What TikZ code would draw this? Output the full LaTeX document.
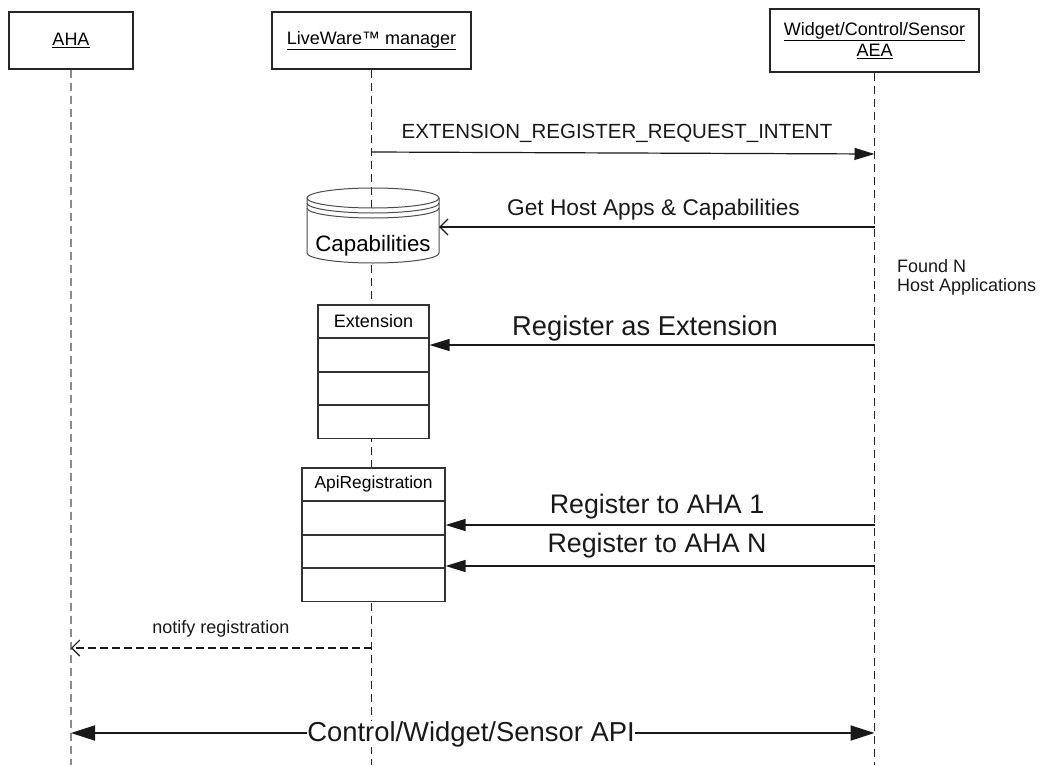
\documentclass[tikz,border=0pt]{standalone}
\usepackage{fontspec}
\setmainfont{Liberation Sans}
\usetikzlibrary{arrows.meta}
\begin{document}
\begin{tikzpicture}[x=1pt,y=-1pt,
  hdr/.style={draw=black!85, line width=1.2pt, fill=white, inner sep=0pt, align=center, font=\fontsize{18}{22}\selectfont},
  cell/.style={draw=black!80, line width=1.1pt, fill=white, inner sep=0pt, font=\fontsize{18}{22}\selectfont},
  life/.style={dash pattern=on 8pt off 5pt, line width=1.2pt, draw=black!85},
  lifeg/.style={dash pattern=on 8pt off 5pt, line width=1.1pt, draw=black!45},
  msg/.style={line width=1.2pt, draw=black!90, -{Triangle[length=20pt,width=12pt]}},
  reply/.style={line width=1.1pt, draw=black!90, -{Straight Barb[length=8pt,width=16pt]}},
  big/.style={line width=2pt, draw=black!90, {Triangle[length=24pt,width=15pt]}-{Triangle[length=24pt,width=15pt]}},
  lbl/.style={inner sep=0pt, anchor=base, text=black!90},
  cyl/.style={draw=black!70, line width=1pt}
]
\useasboundingbox (0,0) rectangle (1043,765);

% header boxes
\node[hdr, minimum width=124pt, minimum height=57pt] (aha) at (71,40.5) {\underline{AHA}};
\node[hdr, minimum width=199pt, minimum height=57pt] (lw) at (371.5,40.5) {\underline{LiveWare™ manager}};
\node[hdr, minimum width=209pt, minimum height=63pt] (aea) at (874.5,40.5) {\underline{Widget/Control/Sensor}\\[-1pt]\underline{AEA}};

% lifeline ends
\coordinate (ahaEnd) at (aha.south |- 0,765);
\coordinate (lwEnd) at (lw.south |- 0,765);
\coordinate (aeaEnd) at (aea.south |- 0,765);

\draw[lifeg] (aha.south) -- (ahaEnd);
\draw[life] (lw.south) -- (lwEnd);
\draw[life] (aea.south) -- (aeaEnd);

% capabilities cylinder
\node[inner sep=0pt, minimum width=132pt, minimum height=75pt] (cap) at (373,225.5) {};
\fill[white] (307,198) -- (307,253) arc[start angle=180,end angle=0,x radius=66,y radius=10] -- (439,198) arc[start angle=0,end angle=180,x radius=66,y radius=10] -- cycle;
\draw[cyl] (373,198) ellipse [x radius=66, y radius=10];
\draw[cyl] (307,203) arc[start angle=180,end angle=0,x radius=66,y radius=10];
\draw[cyl] (307,208) arc[start angle=180,end angle=0,x radius=66,y radius=10];
\draw[cyl] (307,198) -- (307,253) arc[start angle=180,end angle=0,x radius=66,y radius=10] -- (439,198);
\node[inner sep=0pt, anchor=base, font=\fontsize{22.3}{26}\selectfont] (captxt) at (373,251) {Capabilities};

% Extension class box
\node[cell, minimum width=111pt, minimum height=32.5pt] (ext) at (373.5,321.25) {Extension};
\node[cell, minimum width=111pt, minimum height=32.5pt, anchor=north] (ext1) at (ext.south) {};
\node[cell, minimum width=111pt, minimum height=32.5pt, anchor=north] (ext2) at (ext1.south) {};
\node[cell, minimum width=111pt, minimum height=32.5pt, anchor=north] (ext3) at (ext2.south) {};

% ApiRegistration class box
\node[cell, minimum width=143pt, minimum height=32.5pt, font=\fontsize{17.4}{21}\selectfont] (api) at (373.5,484.25) {ApiRegistration};
\node[cell, minimum width=143pt, minimum height=32.5pt, anchor=north] (api1) at (api.south) {};
\node[cell, minimum width=143pt, minimum height=32.5pt, anchor=north] (api2) at (api1.south) {};
\node[cell, minimum width=143pt, minimum height=32.5pt, anchor=north] (api3) at (api2.south) {};

% message coordinates on lifelines
\coordinate (m1s) at (lw.south |- 0,152);
\coordinate (m1e) at (aea.south |- 0,154);
\coordinate (m2s) at (aea.south |- 0,227);
\coordinate (m3s) at (aea.south |- 0,345);
\coordinate (m4s) at (aea.south |- 0,525);
\coordinate (m5s) at (aea.south |- 0,566);
\coordinate (m6s) at (lw.south |- 0,648);
\coordinate (m6e) at (aha.south |- 0,648);
\coordinate (m7a) at (aha.south |- 0,733);
\coordinate (m7b) at (aea.south |- 0,733);

\draw[msg] (m1s) -- (m1e);
\node[lbl, font=\fontsize{20.5}{24}\selectfont] (l1) at (617,138) {EXTENSION\_REGISTER\_REQUEST\_INTENT};

\draw[reply] (m2s) -- (cap.east |- m2s);
\node[lbl, font=\fontsize{22.7}{26}\selectfont] (l2) at (653.5,215) {Get Host Apps \& Capabilities};

\draw[msg] (m3s) -- (ext1.east |- m3s);
\node[lbl, font=\fontsize{27.3}{32}\selectfont] (l3) at (645,335) {Register as Extension};

\draw[msg] (m4s) -- (api1.east |- m4s);
\node[lbl, font=\fontsize{26.8}{32}\selectfont] (l4) at (657,513) {Register to AHA 1};

\draw[msg] (m5s) -- (api3.east |- m5s);
\node[lbl, font=\fontsize{26.8}{32}\selectfont] (l5) at (657,552) {Register to AHA N};

\draw[reply, dash pattern=on 8pt off 4pt] (m6s) -- (m6e);
\node[lbl, font=\fontsize{18}{22}\selectfont] (l6) at (221,633) {notify registration};

\node[inner sep=0pt, anchor=base west, align=left, font=\fontsize{18}{19}\selectfont, text=black!90] (found) at (897,291) {Found N\\Host Applications};

\draw[big] (m7a) -- (m7b);
\node[fill=white, inner sep=0pt, anchor=base, font=\fontsize{27.4}{32}\selectfont, text=black!90] (api-lbl) at (471,741) {Control/Widget/Sensor API};
\end{tikzpicture}
\end{document}
